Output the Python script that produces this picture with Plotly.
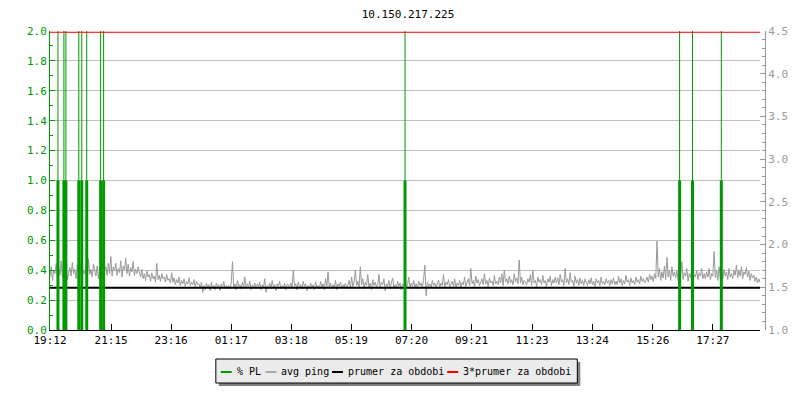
import pandas as pd
import plotly.graph_objects as go

FONT = "DejaVu Sans Mono"
GREEN = "#009900"
GRAY = "#999999"

START = pd.Timestamp("2024-03-11 19:12")
END = pd.Timestamp("2024-03-12 19:02")

# avg ping [ms], one value per 2.5 minutes from 19:12 (one row = one hour)
ping = [
    1.62, 1.74, 1.58, 1.70, 1.66, 1.78, 1.60, 1.72, 1.64, 1.81, 1.62, 1.70, 1.67, 1.75, 1.59, 1.68, 1.73, 1.63, 1.79, 1.66, 1.71, 1.60, 1.76, 1.68,
    1.64, 1.79, 1.61, 1.70, 1.66, 1.74, 1.59, 1.83, 1.65, 1.71, 1.62, 1.77, 1.68, 1.63, 1.75, 1.60, 1.72, 1.66, 1.79, 1.62, 1.70, 1.74, 1.64, 1.78,
    1.66, 1.86, 1.63, 1.74, 1.69, 1.78, 1.64, 1.72, 1.67, 1.81, 1.62, 1.75, 1.70, 1.84, 1.66, 1.77, 1.63, 1.73, 1.68, 1.80, 1.64, 1.71, 1.66, 1.74,
    1.68, 1.62, 1.71, 1.60, 1.66, 1.58, 1.69, 1.62, 1.65, 1.57, 1.67, 1.60, 1.63, 1.56, 1.78, 1.59, 1.64, 1.57, 1.66, 1.60, 1.62, 1.56, 1.65, 1.58,
    1.60, 1.55, 1.67, 1.56, 1.61, 1.53, 1.59, 1.55, 1.62, 1.52, 1.58, 1.54, 1.60, 1.51, 1.57, 1.54, 1.61, 1.52, 1.56, 1.53, 1.59, 1.51, 1.57, 1.53,
    1.54, 1.49, 1.56, 1.44, 1.52, 1.47, 1.55, 1.50, 1.53, 1.46, 1.56, 1.49, 1.52, 1.47, 1.55, 1.50, 1.53, 1.46, 1.54, 1.49, 1.57, 1.48, 1.52, 1.50,
    1.52, 1.48, 1.55, 1.80, 1.50, 1.54, 1.47, 1.58, 1.51, 1.53, 1.48, 1.56, 1.50, 1.62, 1.49, 1.54, 1.51, 1.57, 1.47, 1.53, 1.50, 1.55, 1.48, 1.54,
    1.51, 1.56, 1.47, 1.53, 1.50, 1.60, 1.44, 1.52, 1.49, 1.55, 1.48, 1.58, 1.50, 1.53, 1.46, 1.54, 1.51, 1.57, 1.48, 1.52, 1.50, 1.55, 1.47, 1.53,
    1.53, 1.49, 1.55, 1.50, 1.70, 1.51, 1.54, 1.47, 1.56, 1.50, 1.53, 1.48, 1.57, 1.51, 1.54, 1.46, 1.52, 1.49, 1.55, 1.50, 1.53, 1.47, 1.56, 1.50,
    1.52, 1.48, 1.57, 1.50, 1.54, 1.47, 1.60, 1.51, 1.68, 1.50, 1.55, 1.48, 1.53, 1.50, 1.58, 1.47, 1.54, 1.51, 1.56, 1.49, 1.53, 1.50, 1.55, 1.48,
    1.53, 1.58, 1.49, 1.62, 1.51, 1.56, 1.70, 1.52, 1.57, 1.50, 1.74, 1.53, 1.60, 1.48, 1.56, 1.52, 1.65, 1.50, 1.55, 1.47, 1.59, 1.52, 1.56, 1.50,
    1.52, 1.65, 1.50, 1.56, 1.53, 1.60, 1.46, 1.54, 1.51, 1.58, 1.49, 1.55, 1.61, 1.50, 1.53, 1.48, 1.57, 1.51, 1.55, 1.47, 1.54, 1.52, 1.58, 1.50,
    1.53, 1.62, 1.49, 1.55, 1.51, 1.58, 1.50, 1.54, 1.48, 1.57, 1.52, 1.55, 1.50, 1.60, 1.76, 1.40, 1.56, 1.51, 1.54, 1.49, 1.58, 1.52, 1.55, 1.50,
    1.54, 1.58, 1.50, 1.55, 1.52, 1.65, 1.49, 1.56, 1.53, 1.59, 1.50, 1.54, 1.57, 1.51, 1.60, 1.49, 1.55, 1.52, 1.58, 1.50, 1.56, 1.53, 1.62, 1.51,
    1.55, 1.60, 1.52, 1.72, 1.54, 1.58, 1.51, 1.63, 1.55, 1.59, 1.52, 1.57, 1.60, 1.53, 1.66, 1.54, 1.58, 1.51, 1.61, 1.55, 1.57, 1.52, 1.64, 1.54,
    1.57, 1.53, 1.62, 1.55, 1.66, 1.52, 1.70, 1.56, 1.60, 1.54, 1.63, 1.55, 1.59, 1.53, 1.66, 1.56, 1.61, 1.54, 1.82, 1.55, 1.62, 1.53, 1.58, 1.56,
    1.53, 1.60, 1.56, 1.65, 1.52, 1.70, 1.55, 1.58, 1.51, 1.62, 1.56, 1.59, 1.53, 1.64, 1.55, 1.58, 1.51, 1.60, 1.56, 1.63, 1.52, 1.59, 1.55, 1.62,
    1.55, 1.61, 1.53, 1.65, 1.56, 1.59, 1.52, 1.72, 1.55, 1.60, 1.53, 1.67, 1.56, 1.58, 1.51, 1.63, 1.55, 1.59, 1.52, 1.61, 1.54, 1.58, 1.52, 1.60,
    1.56, 1.52, 1.59, 1.54, 1.61, 1.53, 1.57, 1.51, 1.60, 1.55, 1.58, 1.52, 1.62, 1.54, 1.57, 1.53, 1.60, 1.55, 1.58, 1.52, 1.59, 1.54, 1.61, 1.53,
    1.57, 1.53, 1.63, 1.55, 1.60, 1.52, 1.58, 1.54, 1.64, 1.56, 1.59, 1.52, 1.61, 1.55, 1.58, 1.53, 1.62, 1.56, 1.59, 1.54, 1.63, 1.57, 1.60, 1.55,
    1.58, 1.62, 1.56, 1.65, 1.59, 1.63, 1.57, 1.66, 1.60, 2.04, 1.62, 1.72, 1.58, 1.68, 1.61, 1.75, 1.59, 1.85, 1.62, 1.70, 1.58, 1.74, 1.63, 1.68,
    1.61, 1.70, 1.58, 1.66, 1.62, 1.80, 1.59, 1.67, 1.63, 1.72, 1.57, 1.66, 1.61, 1.74, 1.58, 1.65, 1.62, 1.70, 1.59, 1.67, 1.63, 1.72, 1.60, 1.66,
    1.60, 1.68, 1.62, 1.72, 1.59, 1.66, 1.63, 1.92, 1.61, 1.70, 1.58, 1.74, 1.62, 1.67, 1.60, 1.71, 1.63, 1.68, 1.59, 1.72, 1.62, 1.66, 1.60, 1.70,
    1.64, 1.76, 1.61, 1.70, 1.63, 1.74, 1.60, 1.68, 1.65, 1.73, 1.62, 1.69, 1.58, 1.66, 1.61, 1.64, 1.57, 1.62, 1.55, 1.60, 1.56, 1.59, 1.55, 1.58,
]
ping_times = pd.date_range(START, periods=len(ping), freq="150s")

# packet loss events
pl_times = [
    "2024-03-11 19:28", "2024-03-11 19:40", "2024-03-11 19:44",
    "2024-03-11 20:10", "2024-03-11 20:16", "2024-03-11 20:26",
    "2024-03-11 20:54", "2024-03-11 21:00", "2024-03-12 07:07",
    "2024-03-12 16:20", "2024-03-12 16:46", "2024-03-12 17:44",
]
pl_values = [1.0] * 12          # % PL per interval
pl_peaks = [3.0] * 12           # short spike, off the scale

prumer = 1.495                  # average for the period
prumer3 = 4.485                 # 3 * average

tick_times = [
    "2024-03-11 19:12", "2024-03-11 21:15", "2024-03-11 23:16",
    "2024-03-12 01:17", "2024-03-12 03:18", "2024-03-12 05:19",
    "2024-03-12 07:20", "2024-03-12 09:21", "2024-03-12 11:23",
    "2024-03-12 13:24", "2024-03-12 15:26", "2024-03-12 17:27",
]
tick_labels = [t[-5:] for t in tick_times]

# page has an 8px body margin, so the figure is 8px smaller each way
W, H = 792, 392
OFF = 8


def stems(times, values):
    xs, ys = [], []
    for t, v in zip(times, values):
        xs += [t, t, None]
        ys += [0, v, None]
    return xs, ys


def px_x(p):
    return (p - 50) / 720


def px_y(p):
    return (330 - p) / 299


fig = go.Figure()
fig.add_trace(go.Scatter(x=ping_times, y=ping, yaxis="y", mode="lines",
                         line=dict(color=GRAY, width=1), name="avg ping"))
fig.add_trace(go.Scatter(x=[START, END], y=[prumer, prumer], yaxis="y",
                         mode="lines", line=dict(color="black", width=2),
                         name="prumer za obdobi"))
x1, y1 = stems(pl_times, pl_peaks)
fig.add_trace(go.Scatter(x=x1, y=y1, yaxis="y2", mode="lines",
                         line=dict(color=GREEN, width=1), name="% PL"))
x2, y2 = stems(pl_times, pl_values)
fig.add_trace(go.Scatter(x=x2, y=y2, yaxis="y2", mode="lines",
                         line=dict(color=GREEN, width=3), name="% PL"))
fig.add_trace(go.Scatter(x=[START, END], y=[prumer3, prumer3], yaxis="y3",
                         mode="lines", line=dict(color="red", width=1),
                         name="3*prumer za obdobi"))

# hand made legend like the original
legend_items = [
    (222, 236, GREEN, "% PL"),
    (267, 281, "#aaaaaa", "avg ping"),
    (334, 348, "black", "prumer za obdobi"),
    (450, 464, "red", "3*prumer za obdobi"),
]
shapes = [
    dict(type="rect", xref="paper", yref="paper",
         x0=px_x(220), x1=px_x(584), y0=px_y(362), y1=px_y(386),
         fillcolor="#808080", line=dict(width=0)),
    dict(type="rect", xref="paper", yref="paper",
         x0=px_x(217), x1=px_x(581), y0=px_y(359), y1=px_y(383),
         fillcolor="#ebebeb", line=dict(color="black", width=1)),
]
annotations = []
for x0, xt, col, label in legend_items:
    shapes.append(dict(type="line", xref="paper", yref="paper",
                       x0=px_x(x0), x1=px_x(x0 + 11), y0=px_y(372), y1=px_y(372),
                       line=dict(color=col, width=2)))
    annotations.append(dict(xref="paper", yref="paper", x=px_x(xt), y=px_y(371.5),
                            text=label, showarrow=False, xanchor="left",
                            yanchor="middle", font=dict(family=FONT, size=10, color="black")))

fig.update_layout(
    width=W,
    height=H,
    margin=dict(l=50 - OFF, r=30, t=31 - OFF, b=70),
    paper_bgcolor="white",
    plot_bgcolor="white",
    showlegend=False,
    font=dict(family=FONT, size=11, color="black"),
    title=dict(text="10.150.217.225", x=(408 - OFF) / W, xanchor="center",
               y=1 - (14 - OFF) / H, yanchor="middle", font=dict(family=FONT, size=11)),
    xaxis=dict(domain=[0, 715 / 720], range=[START, END], type="date",
               tickvals=tick_times, ticktext=tick_labels, ticks="inside",
               ticklen=6, tickcolor="black", showline=True, linecolor="black",
               showgrid=False, zeroline=False),
    yaxis=dict(side="right", anchor="free", position=1, range=[1, 4.5],
               tick0=1, dtick=0.5, tickformat=".1f", ticks="inside", ticklen=5,
               tickcolor=GRAY, showline=True, linecolor=GRAY, showgrid=False,
               zeroline=False, tickfont=dict(color=GRAY),
               minor=dict(dtick=0.1, ticks="inside", ticklen=3, tickcolor=GRAY,
                          showgrid=False)),
    yaxis2=dict(overlaying="y", side="left", anchor="x", range=[0, 2],
                tick0=0, dtick=0.2, tickformat=".1f", ticks="inside", ticklen=5,
                tickcolor=GREEN, showline=True, linecolor=GREEN, showgrid=True,
                gridcolor="#c0c0c0", zeroline=False, tickfont=dict(color=GREEN),
                minor=dict(dtick=0.1, ticks="inside", ticklen=3, tickcolor=GREEN,
                           showgrid=False)),
    yaxis3=dict(overlaying="y", range=[1, 4.5], visible=False),
    shapes=shapes,
    annotations=annotations,
)

fig.write_html("out.html")
